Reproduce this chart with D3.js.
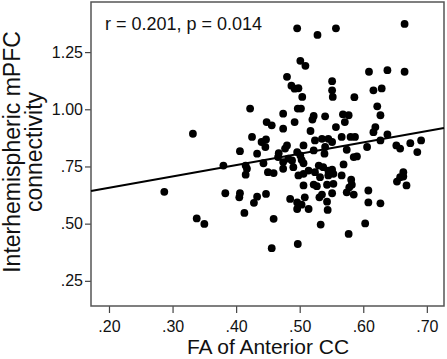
<!DOCTYPE html>
<html>
<head>
<meta charset="utf-8">
<script src="https://cdn.jsdelivr.net/npm/d3@7"></script>
<style>
  body { margin: 0; background: #fff; }
  text { font-family: "Liberation Sans", Arial, sans-serif; fill: #111; }
  .axis path { display: none; }
  .axis line { stroke: #444; stroke-width: 1.2; }
  .axis text { font-size: 16px; }
</style>
</head>
<body>
<script>
//////////////// Data ////////////////////
// FA of anterior CC (x) vs interhemispheric mPFC connectivity (y)
var faValues = [
  0.496, 0.528, 0.557, 0.665, 0.501, 0.509, 0.480, 0.487, 0.492, 0.498,
  0.504, 0.551, 0.551, 0.552, 0.586, 0.609, 0.638, 0.665, 0.616, 0.629,
  0.622, 0.627, 0.422, 0.474, 0.497, 0.502, 0.448, 0.456, 0.474, 0.492,
  0.522, 0.520, 0.540, 0.568, 0.577, 0.571, 0.557, 0.517, 0.619, 0.616,
  0.638, 0.332, 0.425, 0.440, 0.447, 0.446, 0.406, 0.433, 0.467, 0.466,
  0.480, 0.477, 0.506, 0.524, 0.535, 0.545, 0.551, 0.566, 0.580, 0.587,
  0.540, 0.539, 0.574, 0.606, 0.627, 0.652, 0.658, 0.674, 0.691, 0.685,
  0.496, 0.501, 0.522, 0.585, 0.590, 0.380, 0.415, 0.417, 0.415, 0.443,
  0.450, 0.459, 0.474, 0.474, 0.482, 0.488, 0.490, 0.503, 0.506, 0.498,
  0.506, 0.514, 0.524, 0.530, 0.537, 0.545, 0.551, 0.545, 0.553, 0.532,
  0.566, 0.569, 0.506, 0.522, 0.527, 0.543, 0.553, 0.581, 0.582, 0.578,
  0.574, 0.585, 0.653, 0.663, 0.663, 0.658, 0.668, 0.287, 0.383, 0.406,
  0.405, 0.433, 0.428, 0.447, 0.485, 0.496, 0.503, 0.496, 0.508, 0.514,
  0.531, 0.535, 0.543, 0.551, 0.544, 0.608, 0.608, 0.627, 0.413, 0.338,
  0.350, 0.459, 0.533, 0.603, 0.577, 0.497, 0.456
];
var connValues = [
  1.354, 1.325, 1.354, 1.373, 1.212, 1.190, 1.142, 1.103, 1.090, 1.092,
  1.054, 1.123, 1.083, 1.054, 1.053, 1.164, 1.171, 1.164, 1.083, 1.091,
  1.013, 0.974, 1.003, 0.981, 1.003, 1.003, 0.944, 0.930, 0.915, 0.944,
  0.971, 0.955, 0.969, 0.978, 0.974, 0.944, 0.922, 0.905, 0.922, 0.900,
  0.890, 0.893, 0.879, 0.857, 0.868, 0.835, 0.817, 0.806, 0.808, 0.791,
  0.842, 0.828, 0.842, 0.864, 0.871, 0.871, 0.857, 0.879, 0.879, 0.879,
  0.835, 0.806, 0.823, 0.835, 0.864, 0.842, 0.828, 0.852, 0.864, 0.813,
  0.813, 0.798, 0.820, 0.791, 0.794, 0.754, 0.754, 0.740, 0.714, 0.764,
  0.725, 0.721, 0.769, 0.740, 0.784, 0.776, 0.747, 0.779, 0.764, 0.711,
  0.718, 0.732, 0.725, 0.754, 0.747, 0.732, 0.736, 0.711, 0.718, 0.703,
  0.711, 0.759, 0.667, 0.671, 0.664, 0.670, 0.674, 0.692, 0.670, 0.659,
  0.637, 0.627, 0.684, 0.725, 0.706, 0.703, 0.667, 0.639, 0.633, 0.633,
  0.615, 0.618, 0.591, 0.630, 0.608, 0.593, 0.583, 0.564, 0.615, 0.564,
  0.615, 0.627, 0.596, 0.633, 0.560, 0.645, 0.593, 0.589, 0.547, 0.523,
  0.499, 0.521, 0.496, 0.501, 0.455, 0.411, 0.393
];
var xTicks = [0.20, 0.30, 0.40, 0.50, 0.60, 0.70];
var yTicks = [0.25, 0.50, 0.75, 1.00, 1.25];
var fitLine = {intercept: 0.557, slope: 0.497};
var statLabel = "r = 0.201, p = 0.014";

var dataset = faValues.map(function(d, i) { return {x: d, y: connValues[i]}; });

//////////////// SVG ////////////////////
var W = 447, H = 359;
var plot = {left: 91, top: 2, right: 444, bottom: 306};

var svg = d3.select("body").append("svg")
  .attr("width", W)
  .attr("height", H);

//////////////// Scales ////////////////////
var xScale = d3.scaleLinear().domain([0.1717, 0.727]).range([plot.left, plot.right]);
var yScale = d3.scaleLinear().domain([0.14, 1.469]).range([plot.bottom, plot.top]);

var fmt = function(d) { return d3.format(".2f")(d).replace(/^0/, ""); };

//////////////// Axes ////////////////////
svg.append("g")
  .attr("class", "axis")
  .attr("transform", "translate(0," + plot.bottom + ")")
  .call(d3.axisBottom(xScale).tickValues(xTicks).tickFormat(fmt).tickSize(7).tickPadding(8));

svg.append("g")
  .attr("class", "axis")
  .attr("transform", "translate(" + plot.left + ",0)")
  .call(d3.axisLeft(yScale).tickValues(yTicks).tickFormat(fmt).tickSize(6).tickPadding(2));

// frame
svg.append("rect")
  .attr("x", plot.left)
  .attr("y", plot.top)
  .attr("width", plot.right - plot.left)
  .attr("height", plot.bottom - plot.top)
  .attr("fill", "none")
  .attr("stroke", "#555")
  .attr("stroke-width", 1.5);

//////////////// Fit line ////////////////////
var xd = xScale.domain();
svg.append("line")
  .attr("x1", xScale(xd[0]))
  .attr("y1", yScale(fitLine.intercept + fitLine.slope * xd[0]))
  .attr("x2", xScale(xd[1]))
  .attr("y2", yScale(fitLine.intercept + fitLine.slope * xd[1]))
  .attr("stroke", "#000")
  .attr("stroke-width", 2);

//////////////// Points ////////////////////
svg.selectAll("circle.pt")
  .data(dataset)
  .enter()
  .append("circle")
  .attr("class", "pt")
  .attr("cx", function(d) { return xScale(d.x); })
  .attr("cy", function(d) { return yScale(d.y); })
  .attr("r", 3.9)
  .attr("fill", "#000");

//////////////// Labels ////////////////////
svg.append("text")
  .attr("x", 105)
  .attr("y", 30)
  .style("font-size", "18px")
  .text(statLabel);

svg.append("text")
  .attr("x", (plot.left + plot.right) / 2 + 0.5)
  .attr("y", 354)
  .attr("text-anchor", "middle")
  .style("font-size", "21px")
  .text("FA of Anterior CC");

var yTitle = svg.append("text")
  .attr("transform", "translate(20,152) rotate(-90)")
  .attr("text-anchor", "middle")
  .style("font-size", "23px");
yTitle.append("tspan").attr("x", 0).attr("y", 0).text("Interhemispheric mPFC");
yTitle.append("tspan").attr("x", 0).attr("y", 22).text("connectivity");
</script>
</body>
</html>
